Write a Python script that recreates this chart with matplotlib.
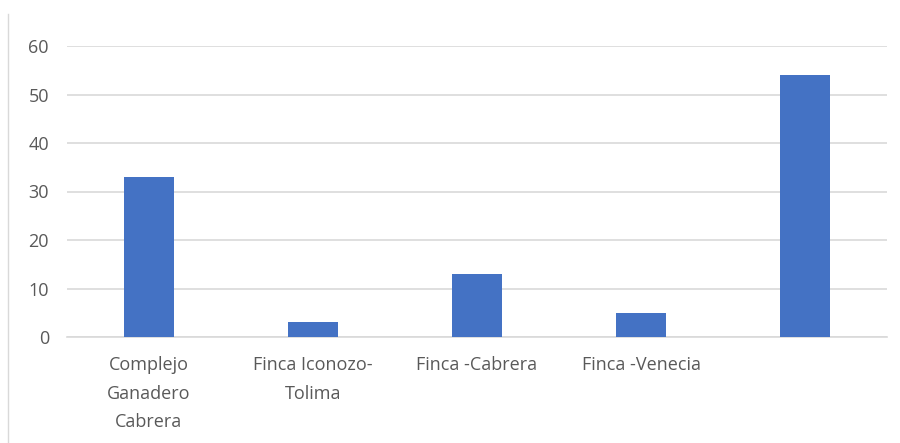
import numpy as np
import matplotlib.pyplot as plt
from matplotlib.lines import Line2D

categories = ['Complejo\nGanadero\nCabrera', 'Finca Iconozo-\nTolima', 'Finca -Cabrera', 'Finca -Venecia', '']
values = [33, 3, 13, 5, 54]
yticks = [0, 10, 20, 30, 40, 50, 60]

plt.rcParams['font.family'] = ['Open Sans', 'DejaVu Sans']

fig = plt.figure(figsize=(9, 4.43), dpi=100)
ax = fig.add_axes([67/900, 106/443, 820/900, 291/443])

x = np.arange(len(categories))
ax.bar(x, values, width=0.31, color='#4472C4', zorder=3)

ax.set_xlim(-0.5, len(categories) - 0.5)
ax.set_ylim(0, 60)
ax.set_yticks(yticks)
ax.set_xticks(x)
ax.set_xticklabels(categories, linespacing=1.75)
ax.yaxis.grid(True, color='#d9d9d9', linewidth=1.2, zorder=0)
ax.tick_params(axis='both', length=0, labelsize=13, colors='#595959')
ax.tick_params(axis='y', pad=13)
ax.tick_params(axis='x', pad=14)
for s in ['top', 'right', 'left']:
    ax.spines[s].set_visible(False)
ax.spines['bottom'].set_color('#d9d9d9')
ax.spines['bottom'].set_linewidth(1.2)

fig.add_artist(Line2D([8/900, 8/900], [0, 1 - 14/443], transform=fig.transFigure,
                      color='#d9d9d9', linewidth=1))

fig.savefig('out.png', dpi=100)
